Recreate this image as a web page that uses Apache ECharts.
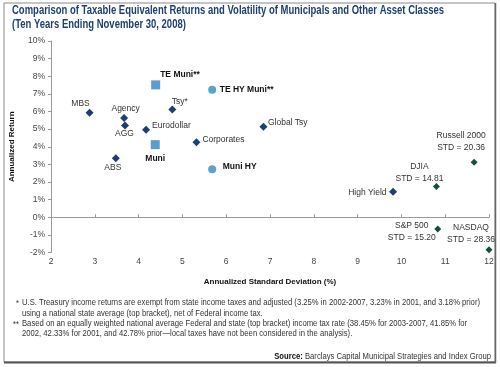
<!DOCTYPE html>
<html><head><meta charset="utf-8">
<script src="https://cdn.jsdelivr.net/npm/echarts@6/dist/echarts.min.js"></script>
<style>html,body{margin:0;padding:0;background:#fff}#c{width:500px;height:367px}</style>
</head><body><div id="c"></div>
<script>
// ---- data ----
const bondNames = ['MBS','Agency','AGG','Eurodollar','Tsy*','Corporates','ABS','Global Tsy','High Yield'];
const bondStd   = [2.88, 3.67, 3.69, 4.17, 4.77, 5.32, 3.48, 6.85, 9.81];
const bondRet   = [5.93, 5.63, 5.21, 4.97, 6.12, 4.25, 3.35, 5.14, 1.45];

const equityNames = ['Russell 2000\nSTD = 20.36','DJIA\nSTD = 14.81','S&P 500\nSTD = 15.20','NASDAQ\nSTD = 28.36'];
const equityStd   = [11.66, 10.80, 10.83, 12.0];
const equityRet   = [3.12, 1.75, -0.66, -1.85];

const muniNames = ['TE Muni**','Muni'];
const muniStd   = [4.39, 4.38];
const muniRet   = [7.51, 4.12];

const hyMuniNames = ['TE HY Muni**','Muni HY'];
const hyMuniStd   = [5.68, 5.68];
const hyMuniRet   = [7.23, 2.73];

const xRange = [2, 12];
const yRange = [-2, 10];

const titleLines = ['Comparison of Taxable Equivalent Returns and Volatility of Municipals and Other Asset Classes',
                    '(Ten Years Ending November 30, 2008)'];
const footMarks = ['*', '', '**', ''];
const footnotes = [
  'U.S. Treasury income returns are exempt from state income taxes and adjusted (3.25% in 2002-2007, 3.23% in 2001, and 3.18% prior)',
  'using a national state average (top bracket), net of Federal income tax.',
  'Based on an equally weighted national average Federal and state (top bracket) income tax rate (38.45% for 2003-2007, 41.85% for',
  '2002, 42.33% for 2001, and 42.78% prior\u2014local taxes have not been considered in the analysis).'
];
const sourceLabel = 'Source:';
const sourceText = 'Barclays Capital Municipal Strategies and Index Group';

// ---- label placement (style) ----
const place = {
  'MBS': ['center', -9, -9],
  'Agency': ['center', 1.5, -9],
  'AGG': ['center', -0.5, 8.5],
  'Eurodollar': ['left', 6, -4],
  'Tsy*': ['center', 7.5, -8],
  'Corporates': ['left', 6, -3],
  'ABS': ['center', -3, 9.5],
  'Global Tsy': ['left', 4.5, -4.5],
  'High Yield': ['right', -6.5, 0.5],
  'Russell 2000\nSTD = 20.36': ['center', -13, -20.5],
  'DJIA\nSTD = 14.81': ['center', -17, -14],
  'S&P 500\nSTD = 15.20': ['center', -26, 3],
  'NASDAQ\nSTD = 28.36': ['center', -18, -16],
  'TE Muni**': ['left', 4.5, -10.5],
  'Muni': ['center', 0, 14.5],
  'TE HY Muni**': ['left', 7.5, 0],
  'Muni HY': ['left', 10.5, -2]
};

const FN = '"Liberation Sans", Arial, sans-serif';
const mctx = document.createElement('canvas').getContext('2d');
function textW(t, font) { mctx.font = font; return mctx.measureText(t).width; }

function items(names, xs, ys) {
  return names.map((n, i) => {
    const p = place[n] || ['center', 0, 0];
    return {name: n, value: [xs[i], ys[i]],
      label: {align: p[0], offset: [p[1], p[2]]}};
  });
}
function series(names, xs, ys, symbol, size, color, bold) {
  return {
    type: 'scatter', xAxisIndex: 0, yAxisIndex: 0,
    symbol: symbol, symbolSize: size,
    itemStyle: {color: color, opacity: 1},
    label: {show: true, position: 'inside', formatter: '{b}', verticalAlign: 'middle',
      fontFamily: FN, fontSize: 8.5, fontWeight: bold ? 'bold' : 'normal',
      color: bold ? '#111' : '#333', lineHeight: 11.5},
    emphasis: {disabled: true},
    data: items(names, xs, ys)
  };
}

// title (condensed look via horizontal scaling)
const titleFont = 'bold 13px ' + FN;
const tScale = 432 / textW(titleLines[0], titleFont);
const titleGraphics = titleLines.map((t, i) => ({
  type: 'text', x: 12, y: [10, 24][i], scaleX: tScale,
  style: {text: t, font: titleFont, fill: '#1f3f72', verticalAlign: 'middle'}
}));

// footnotes
const fnFont = '9px ' + FN;
const fScale = (480 - 22) / textW(footnotes[0], fnFont);
const fnY = [303, 313.5, 324, 334];
const fnGraphics = [];
footnotes.forEach((t, i) => {
  fnGraphics.push({type: 'text', x: 22, y: fnY[i], scaleX: fScale,
    style: {text: t, font: fnFont, fill: '#333', verticalAlign: 'middle'}});
  if (footMarks[i]) fnGraphics.push({type: 'text', x: 21, y: fnY[i] + 1, scaleX: fScale,
    style: {text: footMarks[i] + ' ', font: fnFont, fill: '#333', verticalAlign: 'middle', align: 'right'}});
});
const srcBold = 'bold 9px ' + FN;
const wSrcTxt = textW(' ' + sourceText, fnFont) * fScale;
fnGraphics.push({type: 'text', x: 491, y: 357, scaleX: fScale,
  style: {text: ' ' + sourceText, font: fnFont, fill: '#333', verticalAlign: 'middle', align: 'right'}});
fnGraphics.push({type: 'text', x: 491 - wSrcTxt, y: 357, scaleX: fScale,
  style: {text: sourceLabel, font: srcBold, fill: '#111', verticalAlign: 'middle', align: 'right'}});

const chart = echarts.init(document.getElementById('c'), null, {renderer: 'canvas'});
chart.setOption({
  animation: false,
  backgroundColor: '#fff',
  grid: {left: 49, width: 440, top: 41, height: 211.5, containLabel: false},
  xAxis: [{
    type: 'value', min: xRange[0], max: xRange[1], interval: 1,
    axisLine: {show: true, onZero: true, lineStyle: {color: '#9a9a9a', width: 1}},
    axisTick: {show: true, inside: true, length: 3, lineStyle: {color: '#9a9a9a'}},
    axisLabel: {show: false}, splitLine: {show: false}
  }, {
    type: 'value', min: xRange[0], max: xRange[1], interval: 1, position: 'bottom',
    axisLine: {show: false, onZero: false}, axisTick: {show: false},
    axisLabel: {show: true, margin: 5, fontFamily: FN, fontSize: 8.5, color: '#444'},
    splitLine: {show: false},
    name: 'Annualized Standard Deviation (%)', nameLocation: 'middle', nameGap: 25,
    nameTextStyle: {fontFamily: FN, fontSize: 8, fontWeight: 'bold', color: '#111'}
  }],
  yAxis: {
    type: 'value', min: yRange[0], max: yRange[1], interval: 1,
    axisLine: {show: true, lineStyle: {color: '#9a9a9a'}},
    axisTick: {show: true, length: 3, lineStyle: {color: '#9a9a9a'}},
    axisLabel: {formatter: '{value}%', margin: 6, fontFamily: FN, fontSize: 8.5, color: '#444'},
    splitLine: {show: false},
    name: 'Annualized Return', nameLocation: 'middle', nameGap: 35, nameRotate: 90,
    nameTextStyle: {fontFamily: FN, fontSize: 8, fontWeight: 'bold', color: '#111'}
  },
  graphic: [
    {type: 'rect', shape: {x: 4, y: 3, width: 491, height: 359}, style: {fill: 'none', stroke: '#8a8a8a', lineWidth: 1}, z: -1},
    {type: 'line', shape: {x1: 4, y1: 362.5, x2: 496, y2: 362.5}, style: {stroke: '#555', lineWidth: 2}},
    {type: 'line', shape: {x1: 495.5, y1: 3, x2: 495.5, y2: 363}, style: {stroke: '#666', lineWidth: 1.5}},
    ...titleGraphics,
    ...fnGraphics
  ],
  series: [
    series(bondNames, bondStd, bondRet, 'diamond', 8, '#1b3f74', false),
    series(equityNames, equityStd, equityRet, 'diamond', 7, '#1a4e3c', false),
    series(muniNames, muniStd, muniRet, 'rect', 9, '#5c9dcd', true),
    series(hyMuniNames, hyMuniStd, hyMuniRet, 'circle', 8, '#5aa2cf', true)
  ]
});
</script></body></html>
